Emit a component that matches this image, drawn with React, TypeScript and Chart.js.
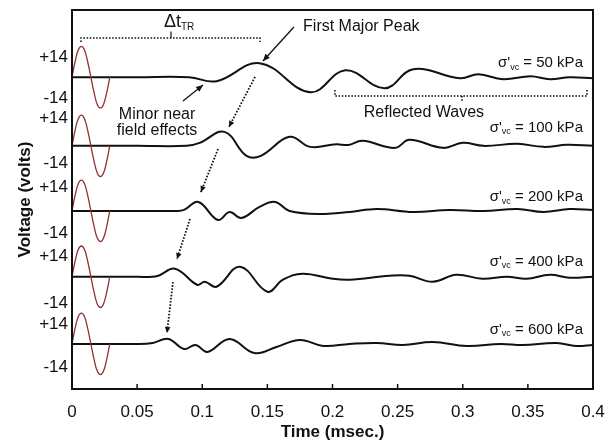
import React, { useEffect, useRef } from "react";
import { Chart, registerables } from "chart.js";
Chart.register(...registerables);

const FONT = "'Liberation Sans', Arial, sans-serif";

// axis ticks
const xTickValues = [0, 0.05, 0.1, 0.15, 0.2, 0.25, 0.3, 0.35, 0.4];
const xTickLabels = ["0", "0.05", "0.1", "0.15", "0.2", "0.25", "0.3", "0.35", "0.4"];
const yTickValues = [-32.9, -61.5, -75.5, -107, -123.8, -155.9, -172, -204.9, -219.6, -249.6];
const yTickLabels = ["+14", "-14", "+14", "-14", "+14", "-14", "+14", "-14", "+14", "-14"];

// traces
const stressLabels = ["50", "100", "200", "400", "600"];
const traceOffsets = [-47, -95, -140.5, -186.5, -233.5];
const labelLevels = [-37.1, -82.5, -130.8, -176.2, -223.7];

// input (transmitted) pulse
const inputTime = [0, 0.0024, 0.0048, 0.0072, 0.0096, 0.012, 0.0145, 0.017, 0.0194, 0.0218, 0.0242, 0.0266, 0.029];
const inputVolt = [0, 11, 19, 21.5, 19, 11, 0, -11, -19, -21.5, -19, -11, 0];

// received signals
const t50 = [0, 0.05, 0.09, 0.111, 0.144, 0.183, 0.210, 0.240, 0.262, 0.298, 0.312, 0.331, 0.352, 0.367, 0.382, 0.4];
const v50 = [0, 0, 0, -2.8, 9.8, -10.5, 4.9, -7.7, 5.6, -0.7, 2.1, -1.4, 0.7, -1.4, 0, -0.7];

const t100 = [0, 0.05, 0.088, 0.098, 0.117, 0.134, 0.145, 0.167, 0.183, 0.203, 0.212, 0.223, 0.248, 0.259, 0.285, 0.300, 0.316, 0.342, 0.362, 0.380, 0.4];
const v100 = [0, 0, 0, 2.1, 9.8, -7, -7, 6.3, -0.7, 1.2, 0.6, 3.5, -1.4, 4.2, -1.4, 2.1, 0, 1.4, -0.7, 0.7, 0];

const t200 = [0, 0.05, 0.08, 0.086, 0.097, 0.112, 0.121, 0.130, 0.144, 0.156, 0.167, 0.193, 0.213, 0.234, 0.262, 0.290, 0.316, 0.342, 0.362, 0.382, 0.4];
const v200 = [0, 0, 0, 0.7, 6.3, -6.3, -0.7, -4.9, 2.8, 6.3, 0, -2.1, -0.7, 1.4, -0.7, 0.7, 0, 1.4, -0.7, 1.4, 0.7];

const t400 = [0, 0.05, 0.065, 0.079, 0.096, 0.102, 0.111, 0.129, 0.150, 0.162, 0.177, 0.200, 0.213, 0.244, 0.259, 0.277, 0.295, 0.315, 0.334, 0.349, 0.367, 0.382, 0.4];
const v400 = [0, 0, 0.3, 5.6, -5.6, -3.5, -7, 7, -10.5, -2.1, 2.1, -1.4, -2.1, 0.7, 0.7, -3.5, 1.4, -1.4, 0, -1.4, 1.4, -0.7, 0];

const t600 = [0, 0.05, 0.062, 0.074, 0.086, 0.095, 0.104, 0.121, 0.140, 0.157, 0.175, 0.193, 0.213, 0.234, 0.254, 0.277, 0.303, 0.329, 0.346, 0.372, 0.387, 0.4];
const v600 = [0, 0, 0.7, 3.5, -3.5, -0.7, -5.6, 3.5, -6.3, -2.1, 2.8, -1.4, 0, 0.7, -0.7, 1.4, -1.4, 0, -0.7, 0.7, -1.4, -0.7];

const traceTimes = [t50, t100, t200, t400, t600];
const traceVolts = [v50, v100, v200, v400, v600];

function drawArrowHead(ctx: CanvasRenderingContext2D, x1: number, y1: number, x2: number, y2: number, len = 7, half = 3) {
  const ang = Math.atan2(y2 - y1, x2 - x1);
  ctx.save();
  ctx.setLineDash([]);
  ctx.beginPath();
  ctx.moveTo(x2, y2);
  ctx.lineTo(x2 - len * Math.cos(ang) + half * Math.sin(ang), y2 - len * Math.sin(ang) - half * Math.cos(ang));
  ctx.lineTo(x2 - len * Math.cos(ang) - half * Math.sin(ang), y2 - len * Math.sin(ang) + half * Math.cos(ang));
  ctx.closePath();
  ctx.fill();
  ctx.restore();
}

const annotatePlugin = {
  id: "annotate",
  afterDraw(chart: any) {
    const { ctx, chartArea: a } = chart;
    const xs = chart.scales.x;
    const ys = chart.scales.y;
    const X = (t: number) => xs.getPixelForValue(t);
    const Y = (v: number) => ys.getPixelForValue(v);
    ctx.save();
    ctx.strokeStyle = "#111";
    ctx.fillStyle = "#111";

    // inner x ticks
    ctx.lineWidth = 1.5;
    xTickValues.slice(1, -1).forEach((t) => {
      ctx.beginPath();
      ctx.moveTo(X(t), a.bottom);
      ctx.lineTo(X(t), a.bottom - 5);
      ctx.stroke();
    });
    // frame
    ctx.lineWidth = 2;
    ctx.strokeRect(a.left, a.top, a.right - a.left, a.bottom - a.top);

    // Δt_TR bracket
    ctx.lineWidth = 1.6;
    ctx.setLineDash([1.6, 1.6]);
    ctx.beginPath();
    ctx.moveTo(X(0.0069), Y(-22.4));
    ctx.lineTo(X(0.0069), Y(-19.6));
    ctx.lineTo(X(0.1443), Y(-19.6));
    ctx.lineTo(X(0.1443), Y(-22.4));
    ctx.stroke();
    ctx.setLineDash([]);
    ctx.lineWidth = 1.2;
    ctx.beginPath();
    ctx.moveTo(X(0.076), Y(-19.6));
    ctx.lineTo(X(0.076), Y(-15));
    ctx.stroke();
    ctx.textBaseline = "middle";
    ctx.textAlign = "left";
    ctx.font = `18px ${FONT}`;
    const dtx = X(0.0706);
    ctx.fillText("Δt", dtx, Y(-8.4));
    const dw = ctx.measureText("Δt").width;
    ctx.font = `10px ${FONT}`;
    ctx.fillText("TR", dtx + dw, Y(-11.9));

    // Reflected waves bracket
    ctx.lineWidth = 1.6;
    ctx.setLineDash([1.6, 1.6]);
    ctx.beginPath();
    ctx.moveTo(X(0.2019), Y(-55.9));
    ctx.lineTo(X(0.2019), Y(-60.1));
    ctx.lineTo(X(0.3954), Y(-60.1));
    ctx.lineTo(X(0.3954), Y(-55.9));
    ctx.stroke();
    ctx.beginPath();
    ctx.moveTo(X(0.2994), Y(-60.1));
    ctx.lineTo(X(0.2994), Y(-63.6));
    ctx.stroke();
    ctx.setLineDash([]);

    // texts
    ctx.font = `16px ${FONT}`;
    ctx.textAlign = "left";
    ctx.fillText("First Major Peak", X(0.1774), Y(-11.9));
    ctx.textAlign = "center";
    ctx.fillText("Minor near", X(0.0653), Y(-73.4));
    ctx.fillText("field effects", X(0.0653), Y(-84.6));
    ctx.fillText("Reflected Waves", X(0.2702), Y(-72.0));

    // solid arrows
    ctx.lineWidth = 1.3;
    const solid: number[][] = [
      [0.1704, -11.9, 0.1466, -35.7],
      [0.0852, -63.6, 0.1006, -52.4],
    ];
    solid.forEach(([t1, v1, t2, v2]) => {
      const x1 = X(t1), y1 = Y(v1), x2 = X(t2), y2 = Y(v2);
      ctx.beginPath();
      ctx.moveTo(x1, y1);
      ctx.lineTo(x2, y2);
      ctx.stroke();
      drawArrowHead(ctx, x1, y1, x2, y2);
    });
    // dotted arrows
    const dotted: number[][] = [
      [0.1405, -46.8, 0.1205, -81.8],
      [0.1121, -97.2, 0.0990, -127.3],
      [0.0906, -146.1, 0.0806, -174.1],
      [0.0775, -190.2, 0.0729, -225.8],
    ];
    ctx.lineWidth = 1.8;
    dotted.forEach(([t1, v1, t2, v2]) => {
      const x1 = X(t1), y1 = Y(v1), x2 = X(t2), y2 = Y(v2);
      ctx.setLineDash([1.6, 1.6]);
      ctx.beginPath();
      ctx.moveTo(x1, y1);
      ctx.lineTo(x2, y2);
      ctx.stroke();
      ctx.setLineDash([]);
      drawArrowHead(ctx, x1, y1, x2, y2, 6, 2.8);
    });

    // stress labels
    const R = X(0.3923);
    stressLabels.forEach((s, i) => {
      const yy = Y(labelLevels[i]);
      ctx.textAlign = "left";
      ctx.font = `15px ${FONT}`;
      const rest = ` = ${s} kPa`;
      const w1 = ctx.measureText(rest).width;
      const w3 = ctx.measureText("σ'").width;
      ctx.font = `9px ${FONT}`;
      const w2 = ctx.measureText("vc").width;
      ctx.fillText("vc", R - w1 - w2, yy + 4);
      ctx.font = `15px ${FONT}`;
      ctx.fillText(rest, R - w1, yy);
      ctx.fillText("σ'", R - w1 - w2 - w3, yy);
    });
    ctx.restore();
  },
};

export default function App() {
  const ref = useRef<HTMLCanvasElement>(null);
  useEffect(() => {
    document.body.style.margin = "0";
    const datasets: any[] = [];
    traceOffsets.forEach((off, i) => {
      datasets.push({
        label: `input ${stressLabels[i]}`,
        data: inputTime.map((t, k) => ({ x: t, y: inputVolt[k] + off })),
        borderColor: "#8e3434",
        borderWidth: 1.3,
        pointRadius: 0,
        tension: 0.4,
        order: 0,
      });
      datasets.push({
        label: `${stressLabels[i]} kPa`,
        data: traceTimes[i].map((t, k) => ({ x: t, y: traceVolts[i][k] + off })),
        borderColor: "#111",
        borderWidth: 2,
        pointRadius: 0,
        tension: 0.4,
        order: 1,
      });
    });
    const chart = new Chart(ref.current as HTMLCanvasElement, {
      type: "line",
      data: { datasets },
      plugins: [annotatePlugin],
      options: {
        animation: false,
        responsive: false,
        events: [],
        layout: { padding: { top: 10, right: 23, left: 0, bottom: 0 } },
        plugins: { legend: { display: false }, tooltip: { enabled: false } },
        scales: {
          x: {
            type: "linear",
            min: 0,
            max: 0.4,
            afterBuildTicks: (s: any) => {
              s.ticks = xTickValues.map((v) => ({ value: v }));
            },
            afterFit: (s: any) => {
              s.height = 54;
              s.paddingLeft = 0;
              s.paddingRight = 0;
              s.paddingTop = 0;
              s.paddingBottom = 0;
            },
            grid: { drawOnChartArea: false, drawTicks: false },
            border: { display: false },
            ticks: {
              autoSkip: false,
              maxRotation: 0,
              padding: 13,
              color: "#111",
              font: { family: FONT, size: 17 },
              callback: (_v: any, i: number) => xTickLabels[i],
            },
            title: {
              display: true,
              text: "Time (msec.)",
              color: "#111",
              font: { family: FONT, size: 17, weight: "bold" },
              padding: { top: 0, bottom: 0 },
            },
          },
          y: {
            type: "linear",
            min: -265,
            max: 0,
            afterBuildTicks: (s: any) => {
              s.ticks = yTickValues.map((v) => ({ value: v }));
            },
            afterFit: (s: any) => {
              s.width = 72;
              s.paddingTop = 0;
              s.paddingBottom = 0;
              s.paddingLeft = 0;
              s.paddingRight = 0;
            },
            grid: { drawOnChartArea: false, drawTicks: false },
            border: { display: false },
            ticks: {
              autoSkip: false,
              padding: 4,
              color: "#111",
              font: { family: FONT, size: 17 },
              callback: (_v: any, i: number) => yTickLabels[i],
            },
            title: {
              display: true,
              text: "Voltage (volts)",
              color: "#111",
              font: { family: FONT, size: 17, weight: "bold" },
              padding: { top: 15, bottom: 0 },
            },
          },
        },
      } as any,
    });
    return () => chart.destroy();
  }, []);
  return (
    <div style={{ width: 616, height: 443 }}>
      <canvas ref={ref} width={616} height={443} style={{ display: "block" }} />
    </div>
  );
}
